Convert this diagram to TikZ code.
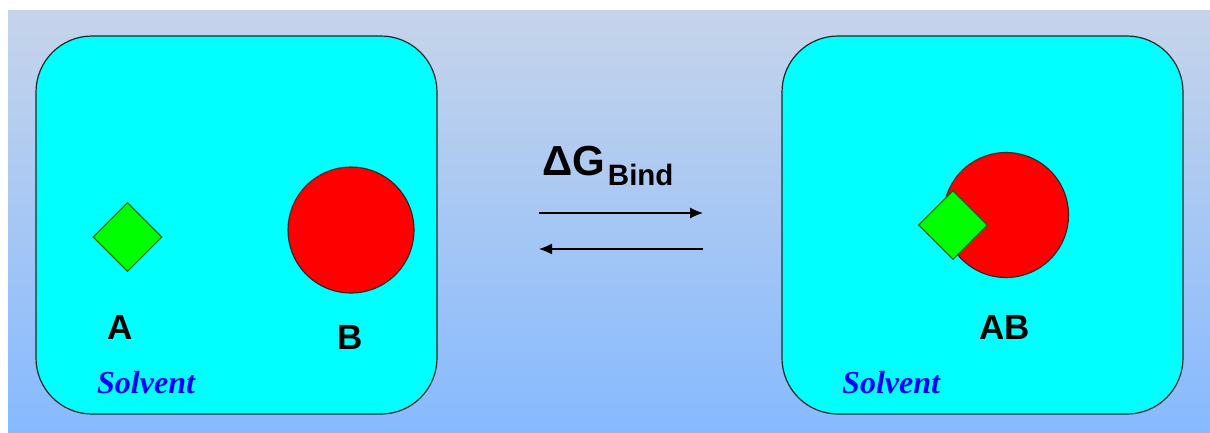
\documentclass[tikz,border=0pt]{standalone}
\usepackage{fontspec}
\usetikzlibrary{shapes.geometric,arrows.meta}
\newfontfamily\arialf{Liberation Sans}
\newfontfamily\timesf{Liberation Serif}
\definecolor{bgtop}{RGB}{198,212,234}
\definecolor{bgbot}{RGB}{134,186,254}
\definecolor{boxfill}{RGB}{0,255,255}
\definecolor{dgreen}{RGB}{0,110,0}
\tikzset{
  panel/.style={draw=black!85, line width=1.2pt, fill=boxfill, rounded corners=56pt},
  ligand/.style={diamond, aspect=1, draw=dgreen, line width=1.1pt, fill={rgb,255:red,0;green,255;blue,0}, inner sep=0pt, minimum width=69pt, minimum height=69pt},
  receptor/.style={circle, draw=black!85, line width=1.1pt, fill=red, inner sep=0pt},
  lbl/.style={font=\arialf\bfseries\fontsize{35}{40}\selectfont, anchor=base, inner sep=0pt},
  solv/.style={font=\timesf\bfseries\itshape\fontsize{32}{36}\selectfont, text=blue, anchor=base west, inner sep=0pt},
  rxn/.style={line width=1.2pt, -{Latex[length=13pt,width=11pt]}}
}
\begin{document}
\begin{tikzpicture}[x=1pt,y=-1pt]
\useasboundingbox (0,0) rectangle (1210,432);
\fill[white] (0,0) rectangle (1210,432);
\shade[top color=bgtop, bottom color=bgbot] (8,10) rectangle (1210,432);
% panels
\draw[panel] (36,36) rectangle (437,414);
\draw[panel] (782,36) rectangle (1183,414);
% left panel contents
\node[ligand] (A) at (127.5,237) {};
\node[receptor, minimum size=126pt] (B) at (351,230) {};
\node[lbl] (Alab) at (120.5,339) {A};
\node[lbl] (Blab) at (350.5,349) {B};
\node[solv] (S1) at (97,393) {Solvent};
% right panel contents
\node[receptor, minimum size=125pt] (Bc) at (1006,215) {};
\node[ligand] (Ac) at (953,225) {};
\node[lbl] (ABlab) at (1004.5,339) {AB};
\node[solv] (S2) at (842,393) {Solvent};
% reaction arrows
\coordinate (f1) at (539,213);
\coordinate (f2) at (703,213);
\coordinate (r1) at (703,249);
\coordinate (r2) at (539,249);
\draw[rxn] (f1) -- (f2);
\draw[rxn] (r1) -- (r2);
\node[anchor=base west, inner sep=0pt, font=\arialf\bfseries\fontsize{42}{48}\selectfont] (dG) at (542,175) {ΔG};
\node[anchor=base west, inner sep=0pt, font=\arialf\bfseries\fontsize{29.5}{32}\selectfont] (bind) at (dG.base east) [xshift=2.5pt, yshift=-10pt] {Bind};
\end{tikzpicture}
\end{document}
